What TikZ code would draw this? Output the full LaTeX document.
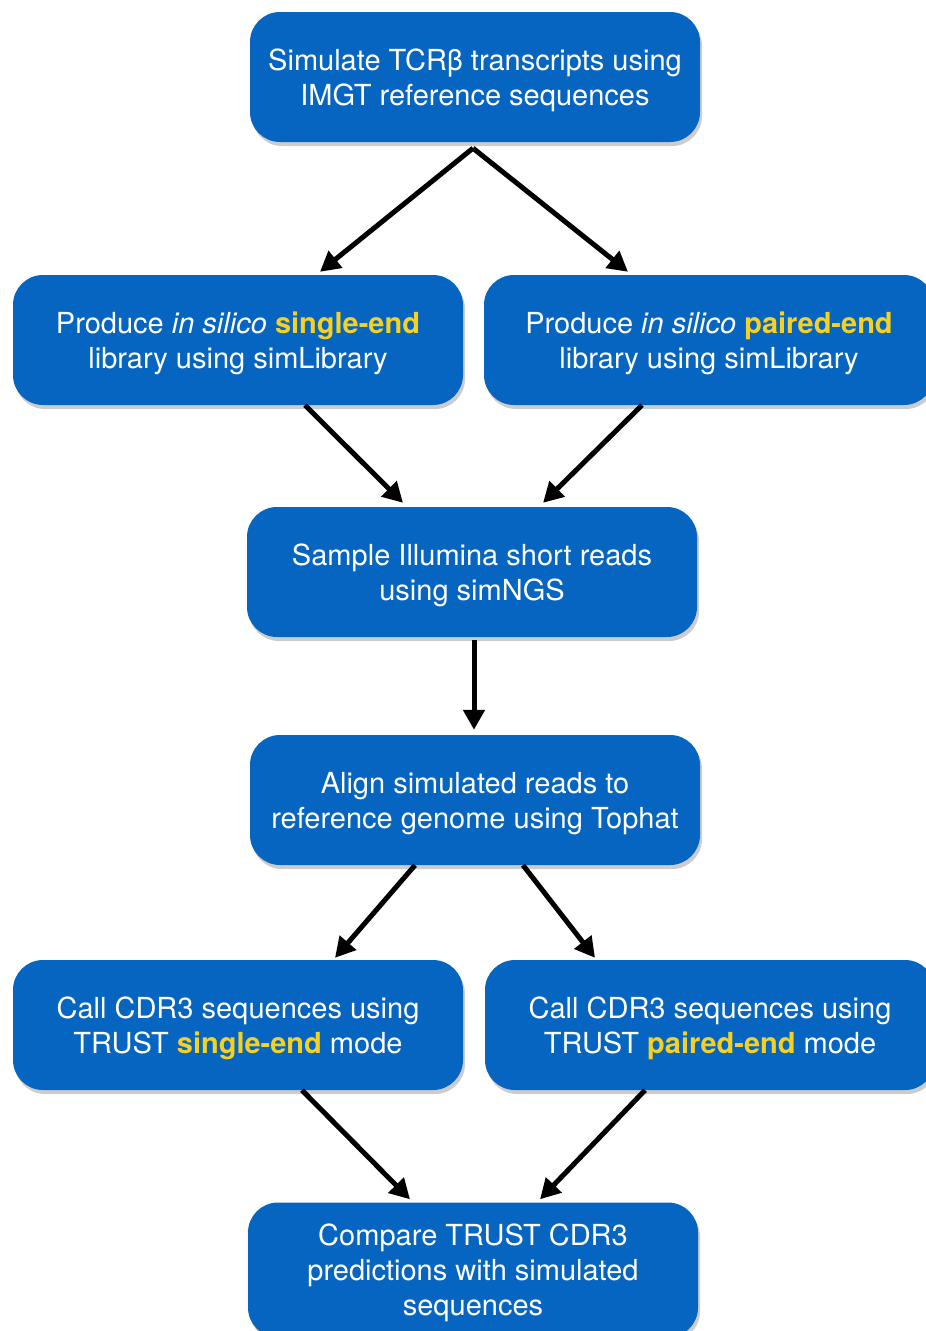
\documentclass[tikz,border=0pt]{standalone}
\usepackage{fontspec}
\setmainfont{TeX Gyre Heros}
\usetikzlibrary{arrows.meta,shadows}
\definecolor{boxblue}{RGB}{5,101,192}
\definecolor{hiyellow}{RGB}{246,208,35}
\newcommand{\hl}[1]{\textcolor{hiyellow}{\textbf{#1}}}
\begin{document}
\begin{tikzpicture}[x=1pt, y=-1pt,
    box/.style={draw=none, fill=boxblue, text=white, rounded corners=30pt,
      minimum width=450pt, minimum height=130pt, align=center,
      font=\fontsize{29}{35}\selectfont, text depth=-2pt,
      drop shadow={shadow xshift=2pt, shadow yshift=-4pt, opacity=0.4}},
    arr/.style={line width=5pt, -{Triangle[length=20pt,width=21pt]}}]
  \useasboundingbox (0,0) rectangle (926,1331);
  % boxes
  \node[box] (sim) at (475,77) {Simulate TCRβ transcripts using\\IMGT reference sequences};
  \node[box] (sl) at (238,340) {Produce \textit{in silico} \hl{single-end}\\library using simLibrary};
  \node[box] (pe) at (709,340) {Produce \textit{in silico} \hl{paired-end}\\library using simLibrary};
  \node[box] (ngs) at (472,572) {Sample Illumina short reads\\using simNGS};
  \node[box] (aln) at (475,800) {Align simulated reads to\\reference genome using Tophat};
  \node[box] (csl) at (238,1025) {Call CDR3 sequences using\\TRUST \hl{single-end} mode};
  \node[box] (cpe) at (710,1025) {Call CDR3 sequences using\\TRUST \hl{paired-end} mode};
  \node[box, minimum height=135pt] (cmp) at (473,1270) {Compare TRUST CDR3\\predictions with simulated\\sequences};
  % arrows
  \draw[arr] ([xshift=-2pt,yshift=-6pt]sim.south) -- ([xshift=82pt,yshift=3pt]sl.north);
  \draw[arr] ([xshift=-2pt,yshift=-6pt]sim.south) -- ([xshift=-81pt,yshift=3pt]pe.north);
  \draw[arr] ([xshift=67pt]sl.south) -- ([xshift=-69pt,yshift=4pt]ngs.north);
  \draw[arr] ([xshift=-67pt]pe.south) -- ([xshift=71pt,yshift=4pt]ngs.north);
  \draw[arr] ([xshift=2pt,yshift=-3pt]ngs.south) -- ([xshift=-1pt,yshift=5pt]aln.north);
  \draw[arr] ([xshift=-60pt]aln.south) -- ([xshift=97pt,yshift=2pt]csl.north);
  \draw[arr] ([xshift=48pt]aln.south) -- ([xshift=-115pt,yshift=2pt]cpe.north);
  \draw[arr] ([xshift=64pt]csl.south) -- ([xshift=-63pt,yshift=3pt]cmp.north);
  \draw[arr] ([xshift=-65pt]cpe.south) -- ([xshift=67pt,yshift=3pt]cmp.north);
\end{tikzpicture}
\end{document}
